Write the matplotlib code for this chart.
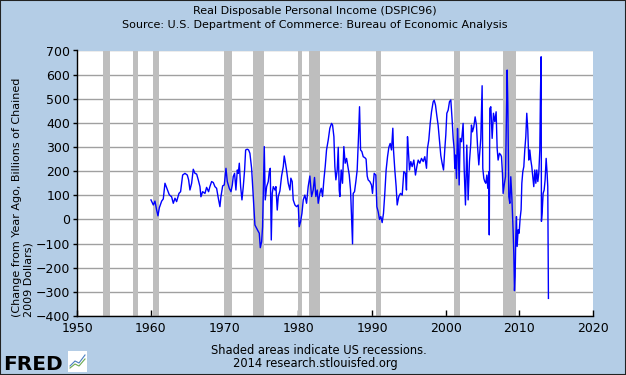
import matplotlib
matplotlib.use("Agg")
import matplotlib.pyplot as plt
from matplotlib.patches import Rectangle
from matplotlib.lines import Line2D

# ---- data ----
years = [
    1960.00, 1960.32, 1960.54, 1960.77, 1960.95, 1961.13, 1961.45, 1961.67, 1961.90, 1962.13,
    1962.49, 1962.80, 1963.03, 1963.26, 1963.48, 1963.80, 1964.02, 1964.30, 1964.61, 1964.93,
    1965.11, 1965.29, 1965.52, 1965.74, 1965.97, 1966.20, 1966.42, 1966.65, 1966.78, 1967.01,
    1967.33, 1967.55, 1967.82, 1968.00, 1968.23, 1968.46, 1968.68, 1968.91, 1969.14, 1969.36,
    1969.50, 1969.73, 1969.95, 1970.18, 1970.36, 1970.63, 1970.86, 1971.04, 1971.17, 1971.35,
    1971.53, 1971.72, 1971.85, 1971.99, 1972.17, 1972.35, 1972.53, 1972.71, 1972.85, 1973.07,
    1973.25, 1973.43, 1973.66, 1973.89, 1974.11, 1974.34, 1974.57, 1974.70, 1974.84, 1975.02,
    1975.15, 1975.24, 1975.38, 1975.51, 1975.70, 1975.92, 1976.06, 1976.19, 1976.33, 1976.46,
    1976.60, 1976.83, 1976.96, 1977.14, 1977.28, 1977.50, 1977.73, 1977.96, 1978.09, 1978.22,
    1978.40, 1978.63, 1978.86, 1978.99, 1979.17, 1979.31, 1979.54, 1979.76, 1979.99, 1980.12,
    1980.30, 1980.49, 1980.67, 1980.89, 1981.12, 1981.34, 1981.57, 1981.80, 1982.02, 1982.20,
    1982.38, 1982.57, 1982.70, 1982.93, 1983.11, 1983.29, 1983.47, 1983.65, 1983.83, 1984.06,
    1984.28, 1984.51, 1984.65, 1984.83, 1984.96, 1985.10, 1985.28, 1985.42, 1985.55, 1985.64,
    1985.82, 1986.00, 1986.18, 1986.36, 1986.55, 1986.73, 1986.91, 1987.09, 1987.22, 1987.36,
    1987.45, 1987.63, 1987.81, 1987.99, 1988.17, 1988.31, 1988.45, 1988.63, 1988.81, 1989.03,
    1989.20, 1989.35, 1989.48, 1989.71, 1989.93, 1990.07, 1990.30, 1990.52, 1990.66, 1990.84,
    1991.02, 1991.20, 1991.38, 1991.56, 1991.74, 1991.92, 1992.11, 1992.29, 1992.47, 1992.65,
    1992.83, 1992.92, 1993.10, 1993.28, 1993.42, 1993.64, 1993.87, 1994.10, 1994.32, 1994.55,
    1994.68, 1994.82, 1994.95, 1995.09, 1995.27, 1995.45, 1995.68, 1995.90, 1996.09, 1996.27,
    1996.49, 1996.72, 1996.95, 1997.17, 1997.40, 1997.53, 1997.71, 1997.90, 1998.08, 1998.30,
    1998.44, 1998.62, 1998.80, 1998.98, 1999.16, 1999.34, 1999.52, 1999.71, 1999.89, 2000.02,
    2000.16, 2000.34, 2000.52, 2000.70, 2000.88, 2001.02, 2001.15, 2001.24, 2001.33, 2001.47,
    2001.61, 2001.70, 2001.83, 2001.97, 2002.15, 2002.37, 2002.51, 2002.69, 2002.87, 2003.05,
    2003.23, 2003.41, 2003.50, 2003.64, 2003.82, 2004.00, 2004.18, 2004.32, 2004.50, 2004.64,
    2004.77, 2004.95, 2005.04, 2005.18, 2005.31, 2005.45, 2005.59, 2005.72, 2005.86, 2005.92,
    2005.99, 2006.13, 2006.31, 2006.49, 2006.67, 2006.85, 2006.99, 2007.12, 2007.30, 2007.49,
    2007.58, 2007.71, 2007.80, 2007.98, 2008.12, 2008.21, 2008.35, 2008.44, 2008.57, 2008.71,
    2008.84, 2008.98, 2009.07, 2009.16, 2009.25, 2009.34, 2009.43, 2009.52, 2009.61, 2009.70,
    2009.84, 2009.97, 2010.11, 2010.24, 2010.34, 2010.47, 2010.61, 2010.74, 2010.88, 2011.01,
    2011.15, 2011.28, 2011.42, 2011.56, 2011.69, 2011.83, 2011.96, 2012.10, 2012.24, 2012.37,
    2012.51, 2012.64, 2012.78, 2012.87, 2012.96, 2013.00, 2013.09, 2013.23, 2013.37, 2013.50,
    2013.64, 2013.77, 2013.86, 2013.95,
]
change_bn = [
    81, 60, 76, 39, 15, 48, 76, 85, 150, 131,
    102, 94, 67, 88, 74, 108, 115, 184, 191, 184,
    164, 122, 150, 208, 191, 188, 164, 136, 94, 115,
    108, 133, 115, 136, 157, 153, 136, 129, 88, 53,
    95, 139, 143, 212, 157, 129, 115, 143, 178, 191,
    122, 205, 191, 233, 136, 81, 136, 205, 288, 291,
    288, 274, 212, 95, -23, -37, -50, -57, -117, -92,
    -30, 101, 302, 81, 136, 157, 198, 212, -85, 108,
    136, 122, 136, 39, 95, 118, 180, 219, 263, 240,
    205, 150, 122, 171, 157, 81, 60, 53, 60, -30,
    -10, 25, 81, 101, 67, 136, 180, 95, 122, 174,
    95, 122, 67, 108, 129, 95, 164, 219, 288, 329,
    378, 398, 391, 343, 219, 164, 205, 299, 122, 95,
    205, 150, 302, 233, 253, 219, 185, 122, 19, -101,
    108, 115, 157, 205, 343, 467, 288, 281, 260, 256,
    250, 180, 164, 157, 143, 108, 191, 184, 53, 32,
    0, 12, -13, 25, 108, 205, 260, 299, 315, 288,
    378, 288, 205, 136, 60, 95, 108, 101, 198, 191,
    122, 343, 281, 205, 240, 219, 246, 184, 219, 246,
    233, 253, 240, 260, 212, 294, 329, 398, 446, 487,
    494, 474, 430, 390, 330, 265, 233, 205, 294, 350,
    440, 453, 488, 495, 412, 336, 294, 212, 267, 170,
    377, 308, 143, 336, 322, 398, 212, 60, 308, 81,
    239, 315, 391, 363, 384, 425, 391, 308, 226, 281,
    336, 554, 212, 170, 157, 150, 184, 129, 198, -64,
    460, 467, 336, 440, 405, 446, 294, 246, 274, 267,
    260, 191, 108, 150, 177, 357, 619, 474, 95, 67,
    177, 95, 26, -50, -140, -295, -237, -71, 12, -112,
    -43, -57, 5, 40, 150, 198, 219, 288, 343, 440,
    371, 246, 288, 246, 219, 177, 136, 205, 150, 205,
    157, 191, 288, 523, 674, -8, 26, 108, 122, 164,
    253, 191, 136, -327,
]
recession_start = [1953.5, 1957.55, 1960.25, 1969.9, 1973.9, 1979.95, 1981.45, 1990.5, 2001.15, 2007.85]
recession_end = [1954.4, 1958.3, 1961.15, 1971.0, 1975.3, 1980.55, 1982.95, 1991.2, 2001.9, 2009.5]
x_ticks = [1950, 1960, 1970, 1980, 1990, 2000, 2010, 2020]
y_ticks = [-400, -300, -200, -100, 0, 100, 200, 300, 400, 500, 600, 700]

title = "Real Disposable Personal Income (DSPIC96)"
source = "Source: U.S. Department of Commerce: Bureau of Economic Analysis"
ylabel = "(Change from Year Ago, Billions of Chained\n2009 Dollars)"
footer1 = "Shaded areas indicate US recessions."
footer2 = "2014 research.stlouisfed.org"

# ---- figure ----
W, H = 626, 375
BG = "#B4CDE6"
fig = plt.figure(figsize=(W / 100, H / 100), dpi=100, facecolor=BG)

left, right, top, bottom = 77.3, 593.0, 50.5, 316.0
ax = fig.add_axes([left / W, 1 - bottom / H, (right - left) / W, (bottom - top) / H])
ax.set_facecolor("white")

for s, e in zip(recession_start, recession_end):
    ax.axvspan(s, e, color="#BEBEBE", lw=0, zorder=1)

ax.set_xlim(1950, 2020)
ax.set_ylim(-400, 700)
ax.set_xticks(x_ticks)
ax.set_yticks(y_ticks)
ax.yaxis.grid(True, color="#A0A0A0", lw=1.0, zorder=0)
ax.set_axisbelow(True)

ax.plot(years, change_bn, color="#0000FF", lw=1.0, zorder=3)

for sp in ["top", "right"]:
    ax.spines[sp].set_visible(False)
for sp in ["left", "bottom"]:
    ax.spines[sp].set_color("black")
    ax.spines[sp].set_linewidth(1.0)

ax.tick_params(axis="x", direction="in", length=4, width=1, labelsize=9, pad=4, colors="black")
ax.tick_params(axis="y", direction="out", length=3, width=1, labelsize=9, pad=2, colors="black")

# titles
fig.text(315 / W, 1 - 11.5 / H, title, ha="center", va="center", fontsize=8.0, color="black")
fig.text(315 / W, 1 - 24.5 / H, source, ha="center", va="center", fontsize=8.05, color="black")

# y label
fig.text(22.5 / W, 1 - 317 / H, ylabel, rotation=90, ha="center", va="bottom",
         multialignment="left", fontsize=8.0, color="black", linespacing=1.15)

# footer
fig.text(319 / W, 1 - 350.5 / H, footer1, ha="center", va="center", fontsize=8.3, color="black")
fig.text(315.5 / W, 1 - 364 / H, footer2, ha="center", va="center", fontsize=8.3, color="black")

# FRED logo
fig.text(3 / W, 1 - 370 / H, "FRED", ha="left", va="baseline", fontsize=14.5,
         fontweight="bold", color="black")
fig.patches.append(Rectangle((68 / W, 1 - 372 / H), 19 / W, 21 / H, transform=fig.transFigure,
                             facecolor="white", edgecolor="none"))
fig.lines.append(Line2D([70 / W, 75 / W, 79 / W, 85 / W], [1 - 366 / H, 1 - 361 / H, 1 - 363 / H, 1 - 355 / H],
                        transform=fig.transFigure, color="#4A7FC0", lw=0.8))
fig.lines.append(Line2D([70 / W, 75 / W, 79 / W, 85 / W], [1 - 368 / H, 1 - 364 / H, 1 - 366 / H, 1 - 359 / H],
                        transform=fig.transFigure, color="#6AA84F", lw=0.8))

# border
fig.patches.append(Rectangle((0, 0), 1, 1, transform=fig.transFigure, fill=False,
                             edgecolor="#222222", lw=1.5))

fig.savefig("out.png", dpi=100, facecolor=BG)
